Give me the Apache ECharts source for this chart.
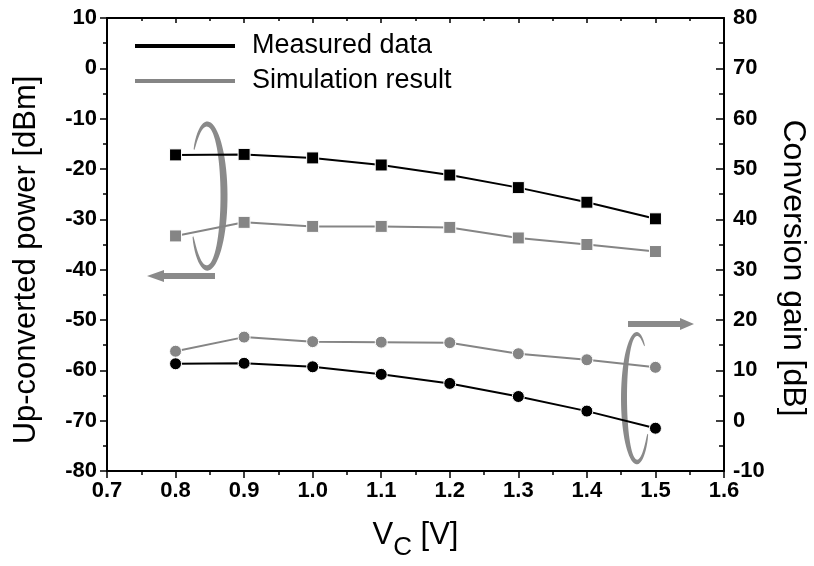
<!DOCTYPE html>
<html>
<head>
<meta charset="utf-8">
<script src="https://cdn.jsdelivr.net/npm/echarts@6/dist/echarts.min.js"></script>
<style>
  html, body { margin: 0; padding: 0; background: #fff; }
  #chart { width: 814px; height: 566px; }
</style>
</head>
<body>
<div id="chart"></div>
<script>
// Collector voltage sweep
const vc = [0.8, 0.9, 1.0, 1.1, 1.2, 1.3, 1.4, 1.5];
// Up-converted output power [dBm]
const measuredPower = [-17.2, -17.1, -17.8, -19.2, -21.2, -23.7, -26.6, -29.9];
const simulatedPower = [-33.3, -30.6, -31.4, -31.4, -31.6, -33.7, -35.0, -36.4];
// Conversion gain [dB]
const measuredGain = [11.3, 11.4, 10.7, 9.2, 7.4, 4.8, 1.9, -1.5];
const simulatedGain = [13.8, 16.6, 15.7, 15.6, 15.5, 13.3, 12.1, 10.6];

const seriesNames = ['Measured data', 'Simulation result'];
const leftTitle = 'Up-converted power [dBm]';
const rightTitle = 'Conversion gain [dB]';

const BLACK = '#000000';
const GREY = '#858585';
const ANNOT = '#8a8a8a';
const tickFont = { fontFamily: 'Liberation Sans', fontWeight: 'bold', fontSize: 22, color: '#000' };

const pairs = ys => vc.map((x, i) => [x, ys[i]]);

function lineSeries(name, ys, yAxisIndex, color, symbol) {
  return {
    name, type: 'line', xAxisIndex: 0, yAxisIndex,
    data: pairs(ys),
    symbol, symbolSize: symbol === 'rect' ? 12 : 12,
    lineStyle: { color, width: 2 },
    itemStyle: { color, borderColor: '#fff', borderWidth: 1 },
    emphasis: { disabled: true },
    animation: false, z: 3
  };
}

// Tapered loop drawn around an ellipse (annotation)
function crescent(cx, cy, rx, ry, a0, a1, wMax) {
  const n = 60, outer = [], inner = [];
  for (let k = 0; k <= n; k++) {
    const t = k / n;
    const a = a0 + (a1 - a0) * t;
    const w = 1 + (wMax - 1) * Math.pow(Math.sin(Math.PI * t), 0.6);
    const c = Math.cos(a), s = Math.sin(a);
    outer.push([cx + (rx + w / 2) * c, cy + (ry + w / 2) * s]);
    inner.push([cx + (rx - w / 2) * c, cy + (ry - w / 2) * s]);
  }
  return outer.concat(inner.reverse());
}

function arrow(x0, x1, y, headLen, headHalf, barHalf) {
  const dir = Math.sign(x1 - x0);
  const hb = x1 - dir * headLen;
  return [[x0, y - barHalf], [hb, y - barHalf], [hb, y - headHalf], [x1, y],
          [hb, y + headHalf], [hb, y + barHalf], [x0, y + barHalf]];
}

const chart = echarts.init(document.getElementById('chart'), null, { renderer: 'canvas' });

const xCommon = {
  type: 'value', min: 0.7, max: 1.6, interval: 0.1,
  axisLine: { show: true, onZero: false, lineStyle: { color: '#000', width: 2 } },
  splitLine: { show: false }
};

chart.setOption({
  animation: false,
  backgroundColor: '#fff',
  grid: { left: 107, right: 90, top: 18, bottom: 95, containLabel: false },
  legend: {
    data: seriesNames,
    orient: 'vertical',
    left: 135, top: 31, padding: 0,
    icon: 'rect',
    itemWidth: 100, itemHeight: 4,
    itemGap: 5,
    itemStyle: { borderWidth: 0 },
    selectedMode: false,
    textStyle: { fontFamily: 'Liberation Sans', fontSize: 27, color: '#000', padding: [0, 0, 0, 12], lineHeight: 30 }
  },
  xAxis: [
    Object.assign({}, xCommon, {
      position: 'bottom',
      name: '{v|V}{s|C}{v| [V]}',
      nameLocation: 'middle', nameGap: 49,
      nameTextStyle: {
        rich: {
          v: { fontFamily: 'Liberation Sans', fontSize: 31, color: '#000', verticalAlign: 'top' },
          s: { fontFamily: 'Liberation Sans', fontSize: 26, color: '#000', verticalAlign: 'top', padding: [15, 0, 0, 0] }
        }
      },
      axisTick: { show: true, inside: false, length: 7, lineStyle: { color: '#000', width: 1.5 } },
      minorTick: { show: true, splitNumber: 2, length: 4, lineStyle: { color: '#000', width: 1.5 } },
      axisLabel: Object.assign({ margin: 9, formatter: v => v.toFixed(1) }, tickFont)
    }),
    Object.assign({}, xCommon, {
      position: 'top',
      axisTick: { show: true, inside: true, length: 5, lineStyle: { color: '#000', width: 1.5 } },
      minorTick: { show: true, splitNumber: 2, length: 3, lineStyle: { color: '#000', width: 1.5 } },
      axisLabel: { show: false }
    })
  ],
  yAxis: [
    {
      type: 'value', position: 'left', min: -80, max: 10, interval: 10,
      axisLine: { show: true, onZero: false, lineStyle: { color: '#000', width: 2 } },
      axisTick: { show: true, inside: false, length: 7, lineStyle: { color: '#000', width: 1.5 } },
      minorTick: { show: true, splitNumber: 2, length: 4, lineStyle: { color: '#000', width: 1.5 } },
      axisLabel: Object.assign({ margin: 10 }, tickFont),
      splitLine: { show: false }
    },
    {
      type: 'value', position: 'right', min: -10, max: 80, interval: 10,
      axisLine: { show: true, onZero: false, lineStyle: { color: '#000', width: 2 } },
      axisTick: { show: true, inside: true, length: 8, lineStyle: { color: '#000', width: 1.5 } },
      minorTick: { show: true, splitNumber: 2, length: 5, lineStyle: { color: '#000', width: 1.5 } },
      axisLabel: Object.assign({ margin: 9 }, tickFont),
      splitLine: { show: false }
    }
  ],
  series: [
    lineSeries(seriesNames[0], measuredPower, 0, BLACK, 'rect'),
    lineSeries(seriesNames[1], simulatedPower, 0, GREY, 'rect'),
    lineSeries(seriesNames[0], measuredGain, 1, BLACK, 'circle'),
    lineSeries(seriesNames[1], simulatedGain, 1, GREY, 'circle')
  ],
  graphic: [
    // axis titles
    { type: 'text', x: 26, y: 260, rotation: Math.PI / 2, silent: true,
      style: { text: leftTitle, fontFamily: 'Liberation Sans', fontSize: 31, fill: '#000',
               align: 'center', verticalAlign: 'middle' } },
    { type: 'text', x: 793, y: 268, rotation: -Math.PI / 2, silent: true,
      style: { text: rightTitle, fontFamily: 'Liberation Sans', fontSize: 32, fill: '#000',
               align: 'center', verticalAlign: 'middle' } },
    // loop + arrow pointing to the left (power) axis
    { type: 'polygon', shape: { points: crescent(207, 196, 17, 72, -Math.PI + 0.7, Math.PI - 0.6, 7) },
      style: { fill: ANNOT }, z: 2, silent: true },
    { type: 'polygon', shape: { points: arrow(215, 147, 276, 17, 6, 3) },
      style: { fill: ANNOT }, z: 2, silent: true },
    // loop + arrow pointing to the right (gain) axis
    { type: 'polygon', shape: { points: crescent(637, 398, 13, 64, -0.95, 0.6 - 2 * Math.PI, 6) },
      style: { fill: ANNOT }, z: 2, silent: true },
    { type: 'polygon', shape: { points: arrow(628, 694, 324, 14, 6, 3) },
      style: { fill: ANNOT }, z: 2, silent: true }
  ]
});
</script>
</body>
</html>
